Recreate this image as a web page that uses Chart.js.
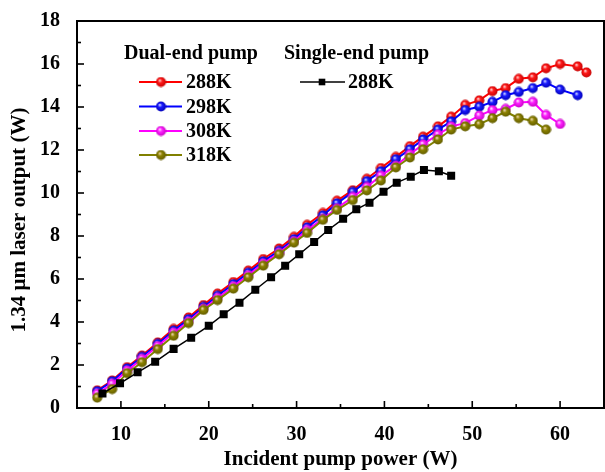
<!DOCTYPE html>
<html>
<head>
<meta charset="utf-8">
<script src="https://cdn.jsdelivr.net/npm/chart.js@4.4.1/dist/chart.umd.min.js"></script>
<style>
  html, body { margin: 0; padding: 0; background: #fff; overflow: hidden; }
  #wrap { width: 605px; height: 472px; overflow: hidden; position: relative; }
  #c { position: absolute; left: 0; top: 0; }
</style>
</head>
<body>
<div id="wrap"><canvas id="c" width="611" height="472"></canvas></div>
<script>
// incident pump power (W), dual-end pumping
const dualX = [7.3, 9.0, 10.7, 12.4, 14.2, 16.0, 17.7, 19.4, 21.0, 22.8, 24.5, 26.2, 28.0, 29.7, 31.2,
  33.0, 34.6, 36.4, 38.0, 39.6, 41.3, 42.9, 44.4, 46.1, 47.6, 49.2, 50.8, 52.3, 53.8, 55.3, 56.9,
  58.4, 60.0, 62.0, 63.0];
const dual288 = [0.82, 1.28, 1.90, 2.44, 3.05, 3.68, 4.21, 4.79, 5.32, 5.86, 6.39, 6.93, 7.42, 7.96, 8.52,
  9.07, 9.64, 10.13, 10.66, 11.16, 11.68, 12.18, 12.62, 13.10, 13.55, 14.10, 14.31, 14.74, 14.88, 15.31, 15.38,
  15.80, 16.00, 15.89, 15.61];
const dual298 = [0.78, 1.24, 1.84, 2.38, 2.98, 3.60, 4.13, 4.70, 5.22, 5.76, 6.29, 6.82, 7.31, 7.85, 8.40,
  8.96, 9.52, 10.05, 10.55, 11.01, 11.57, 12.03, 12.49, 12.95, 13.33, 13.86, 14.01, 14.24, 14.55, 14.70, 14.88,
  15.13, 14.81, 14.55];
const dual308 = [0.66, 1.12, 1.74, 2.28, 2.88, 3.50, 4.02, 4.62, 5.12, 5.66, 6.18, 6.72, 7.22, 7.76, 8.28,
  8.80, 9.29, 9.82, 10.28, 10.81, 11.27, 11.80, 12.26, 12.72, 13.10, 13.25, 13.60, 13.86, 13.91, 14.21, 14.24,
  13.63, 13.21];
const dual318 = [0.48, 0.88, 1.62, 2.13, 2.74, 3.36, 3.95, 4.56, 5.02, 5.55, 6.08, 6.62, 7.15, 7.69, 8.14,
  8.75, 9.21, 9.67, 10.12, 10.58, 11.19, 11.65, 12.03, 12.49, 12.95, 13.10, 13.20, 13.48, 13.78, 13.48, 13.36,
  12.95];

// single-end pumping, 288K
const singleX = [7.9, 9.9, 11.9, 13.9, 16.0, 18.0, 20.0, 21.7, 23.5, 25.3, 27.1, 28.7, 30.3, 32.0, 33.6,
  35.3, 36.8, 38.3, 39.9, 41.4, 43.0, 44.5, 46.2, 47.6];
const single288 = [0.68, 1.15, 1.66, 2.15, 2.75, 3.27, 3.82, 4.36, 4.90, 5.50, 6.08, 6.62, 7.15, 7.72, 8.28,
  8.80, 9.24, 9.55, 10.06, 10.48, 10.76, 11.07, 11.01, 10.80];

const dualLabels = ["288K", "298K", "308K", "318K"];
const singleLabels = ["288K"];
const xTickVals = [10, 20, 30, 40, 50, 60];
const yTitle = "1.34 \u03bcm laser output (W)";

const FONT = "'Liberation Serif', 'Times New Roman', serif";

function pts(xs, ys) {
  return ys.map((y, i) => ({ x: xs[i], y: y }));
}

// shaded ball marker like the original plot
function ball(base, light, dark) {
  const c = document.createElement("canvas");
  c.width = 11; c.height = 11;
  const g = c.getContext("2d");
  const grad = g.createRadialGradient(4.2, 3.8, 0.3, 5.5, 5.5, 5.5);
  grad.addColorStop(0, light);
  grad.addColorStop(0.35, base);
  grad.addColorStop(1, dark);
  g.fillStyle = grad;
  g.beginPath();
  g.arc(5.5, 5.5, 5, 0, Math.PI * 2);
  g.fill();
  return c;
}

const balls = [
  ball("#ff1a1a", "#ffd0d0", "#c00000"),
  ball("#1a1aff", "#d0d8ff", "#0000b0"),
  ball("#ff22ff", "#ffe0ff", "#c000c0"),
  ball("#8c8200", "#f0d8b0", "#5e5800")
];
const lineColors = ["#ff0000", "#0000ff", "#ff00ff", "#808000"];

const series = [dual288, dual298, dual308, dual318];
const datasets = series.map((ys, i) => ({
  label: "Dual " + dualLabels[i],
  data: pts(dualX, ys),
  borderColor: lineColors[i],
  borderWidth: 2,
  pointStyle: balls[i],
  pointRadius: 5,
  tension: 0,
  order: 4 - i
}));
datasets.push({
  label: "Single " + singleLabels[0],
  data: pts(singleX, single288),
  borderColor: "#000",
  backgroundColor: "#000",
  borderWidth: 1.5,
  pointStyle: "rect",
  pointRadius: 4.6,
  tension: 0,
  order: 0
});

// axis frame with inward ticks, y title, plus the two-column legend
const framePlugin = {
  id: "frame",
  afterDraw(chart) {
    const { ctx, chartArea: a, scales: { x, y } } = chart;
    ctx.save();
    ctx.strokeStyle = "#000";
    ctx.lineWidth = 2;
    ctx.beginPath();
    ctx.moveTo(a.left, a.top); ctx.lineTo(a.right, a.top);
    ctx.lineTo(a.right, a.bottom); ctx.lineTo(a.left, a.bottom);
    ctx.closePath();
    ctx.stroke();

    ctx.lineWidth = 1.6;
    for (let v = 10; v <= 65; v += 5) {
      const px = x.getPixelForValue(v);
      const len = v % 10 === 0 ? 7 : 4;
      ctx.beginPath(); ctx.moveTo(px, a.bottom); ctx.lineTo(px, a.bottom - len); ctx.stroke();
    }
    for (let v = 1; v < 18; v += 1) {
      const py = y.getPixelForValue(v);
      const len = v % 2 === 0 ? 7 : 4;
      ctx.beginPath(); ctx.moveTo(a.left, py); ctx.lineTo(a.left + len, py); ctx.stroke();
    }

    ctx.fillStyle = "#000";
    ctx.font = "bold 21px " + FONT;
    ctx.textBaseline = "middle";
    ctx.textAlign = "center";
    ctx.save();
    ctx.translate(20, 220);
    ctx.rotate(-Math.PI / 2);
    ctx.fillText(yTitle, 0, 0);
    ctx.restore();

    // legend
    ctx.font = "bold 20px " + FONT;
    ctx.textAlign = "left";
    ctx.fillText("Dual-end pump", 124, 54);
    ctx.fillText("Single-end pump", 284, 54);
    const rowY = [82, 106.5, 131, 155];
    dualLabels.forEach((lab, i) => {
      ctx.strokeStyle = lineColors[i];
      ctx.lineWidth = 2;
      ctx.beginPath(); ctx.moveTo(139, rowY[i]); ctx.lineTo(182, rowY[i]); ctx.stroke();
      ctx.drawImage(balls[i], 161 - 5.5, rowY[i] - 5.5);
      ctx.fillText(lab, 186, rowY[i] + 1);
    });
    ctx.strokeStyle = "#000";
    ctx.lineWidth = 1.5;
    ctx.beginPath(); ctx.moveTo(300, rowY[0]); ctx.lineTo(345, rowY[0]); ctx.stroke();
    ctx.fillRect(322 - 3.3, rowY[0] - 3.3, 6.6, 6.6);
    ctx.fillText(singleLabels[0], 348, rowY[0] + 1);
    ctx.restore();
  }
};

new Chart(document.getElementById("c"), {
  type: "line",
  data: { datasets: datasets },
  options: {
    responsive: false,
    animation: false,
    layout: { padding: { left: 0, top: 15, right: 1, bottom: 0 } },
    plugins: { legend: { display: false }, tooltip: { enabled: false } },
    scales: {
      x: {
        type: "linear", min: 5, max: 65,
        grid: { display: false }, border: { display: false },
        afterBuildTicks(s) { s.ticks = xTickVals.map(v => ({ value: v })); },
        ticks: { color: "#000", padding: 7,
          font: { family: FONT, size: 20, weight: "bold" } },
        title: { display: true, text: "Incident pump power (W)", color: "#000",
          font: { family: FONT, size: 21, weight: "bold" }, padding: { top: 0, bottom: 0 } },
        afterFit(s) { s.height = 64; }
      },
      y: {
        min: 0, max: 18,
        grid: { display: false }, border: { display: false },
        ticks: { stepSize: 2, color: "#000", padding: 9,
          font: { family: FONT, size: 20, weight: "bold" } },
        title: { display: false },
        afterFit(s) { s.width = 77; }
      }
    }
  },
  plugins: [framePlugin]
});
</script>
</body>
</html>
